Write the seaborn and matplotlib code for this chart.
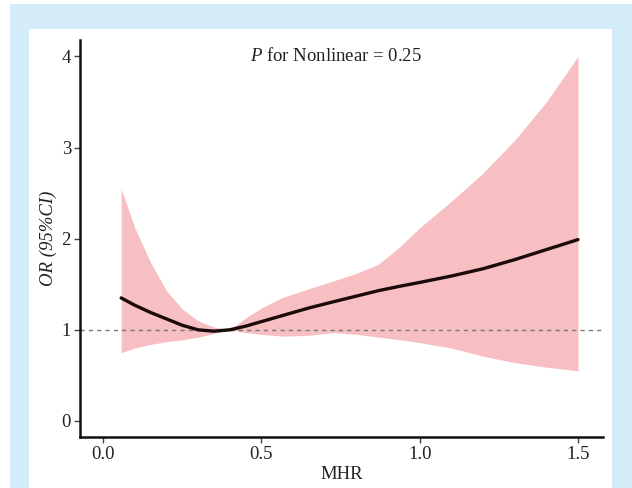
import matplotlib
matplotlib.use("Agg")
import matplotlib.pyplot as plt
from matplotlib.patches import Rectangle
import seaborn as sns
import pandas as pd

# ---- data ----
mhr = [0.057, 0.10, 0.15, 0.20, 0.25, 0.30, 0.35, 0.40, 0.45, 0.50, 0.57,
       0.65, 0.73, 0.80, 0.87, 0.94, 1.00, 1.10, 1.20, 1.30, 1.40, 1.50]
or_est = [1.35, 1.27, 1.19, 1.12, 1.05, 1.00, 0.985, 1.00, 1.04, 1.09, 1.16,
          1.24, 1.31, 1.37, 1.43, 1.48, 1.52, 1.59, 1.67, 1.77, 1.88, 1.99]
ci_upper = [2.55, 2.12, 1.74, 1.43, 1.23, 1.10, 1.03, 1.00, 1.13, 1.24, 1.36,
            1.45, 1.54, 1.62, 1.72, 1.92, 2.12, 2.41, 2.72, 3.08, 3.50, 4.00]
ci_lower = [0.75, 0.80, 0.84, 0.87, 0.89, 0.92, 0.96, 1.00, 0.97, 0.95, 0.93,
            0.94, 0.97, 0.95, 0.92, 0.89, 0.86, 0.80, 0.71, 0.64, 0.59, 0.55]
x_ticks = [0.0, 0.5, 1.0, 1.5]
x_ticklabels = ["0.0", "0.5", "1.0", "1.5"]
y_ticks = [0, 1, 2, 3, 4]
annotation = "$\\it{P}$ for Nonlinear = 0.25"

df = pd.DataFrame({"MHR": mhr, "OR": or_est, "lo": ci_lower, "hi": ci_upper})

sns.set_style("ticks")
plt.rcParams["font.family"] = ["Liberation Serif", "DejaVu Serif"]
plt.rcParams["mathtext.fontset"] = "custom"
plt.rcParams["mathtext.rm"] = "Liberation Serif"
plt.rcParams["mathtext.it"] = "Liberation Serif:italic"

FS = 13.5

fig = plt.figure(figsize=(6.32, 4.88), dpi=100)
fig.patch.set_facecolor("white")
fig.patches.append(Rectangle((10 / 632, 0), 1 - 10 / 632, (488 - 4) / 488,
                             transform=fig.transFigure, facecolor="#d4ebf8",
                             edgecolor="none", zorder=-10))
fig.patches.append(Rectangle((29 / 632, 0), (612 - 29) / 632, (488 - 29) / 488,
                             transform=fig.transFigure, facecolor="white",
                             edgecolor="none", zorder=-9))

ax = fig.add_axes([80 / 632, 1 - 437 / 488, (603 - 80) / 632, (437 - 40) / 488])
ax.set_facecolor("none")

ax.fill_between(df["MHR"], df["lo"], df["hi"], color="#f7bfc2", lw=0, zorder=1)
ax.axhline(1, color="#777777", lw=1.0, ls=(0, (3, 3)), zorder=2)
sns.lineplot(data=df, x="MHR", y="OR", ax=ax, color="#1a0a0a", lw=2.4,
             zorder=3, solid_capstyle="round", solid_joinstyle="round")

ax.set_xlim(-0.073, 1.579)
ax.set_ylim(-0.176, 4.18)
ax.set_xticks(x_ticks)
ax.set_xticklabels(x_ticklabels)
ax.set_yticks(y_ticks)

for side in ["top", "right"]:
    ax.spines[side].set_visible(False)
for side in ["left", "bottom"]:
    ax.spines[side].set_linewidth(1.8)
    ax.spines[side].set_color("#111111")
ax.tick_params(axis="both", direction="out", length=4, width=1.0,
               color="#444444", labelsize=FS, labelcolor="#222222", pad=2.5)

ax.set_xlabel("MHR", fontsize=FS, color="#222222", labelpad=2)
ax.set_ylabel("OR (95%CI)", fontsize=FS, style="italic", color="#222222",
              labelpad=3)

ax.text(0.734, 4.0, annotation, ha="center", va="center", fontsize=FS,
        color="#222222")

fig.savefig("out.png", dpi=100)
